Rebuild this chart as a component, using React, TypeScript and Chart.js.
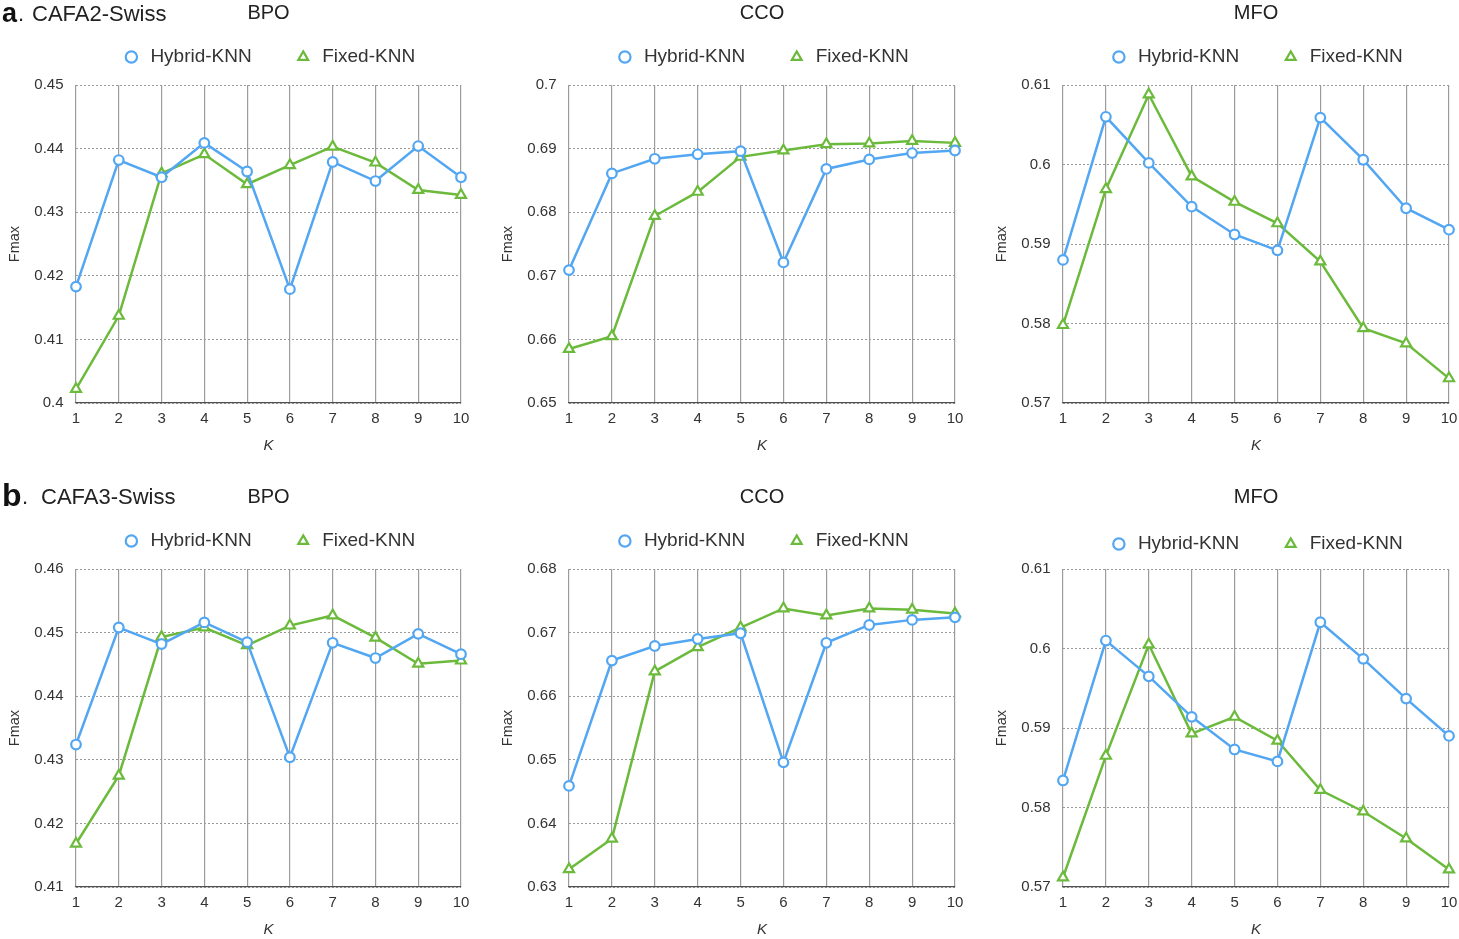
import React, { useEffect, useRef } from "react";
import { Chart, registerables } from "chart.js";

Chart.register(...registerables);

const FONT = "'Liberation Sans', Arial, sans-serif";
const BLUE = "#52A6F2";
const GREEN = "#6CBA3C";
const TEXT = "#333333";

// K values (x categories)
const K_LABELS = ["1", "2", "3", "4", "5", "6", "7", "8", "9", "10"];

// Panel a: CAFA2-Swiss
const A_BPO_HYBRID = [0.4183, 0.4382, 0.4355, 0.4409, 0.4364, 0.4179, 0.4379, 0.4349, 0.4404, 0.4355];
const A_BPO_FIXED = [0.4022, 0.4137, 0.4361, 0.4391, 0.4344, 0.4374, 0.4403, 0.4378, 0.4335, 0.4327];
const A_CCO_HYBRID = [0.6709, 0.6861, 0.6884, 0.6891, 0.6896, 0.6721, 0.6868, 0.6883, 0.6893, 0.6897];
const A_CCO_FIXED = [0.6585, 0.6605, 0.6794, 0.6832, 0.6887, 0.6897, 0.6907, 0.6908, 0.6912, 0.6909];
const A_MFO_HYBRID = [0.588, 0.606, 0.6002, 0.5947, 0.5912, 0.5892, 0.6059, 0.6006, 0.5945, 0.5918];
const A_MFO_FIXED = [0.5798, 0.5969, 0.6088, 0.5985, 0.5953, 0.5926, 0.5878, 0.5794, 0.5775, 0.5731];

// Panel b: CAFA3-Swiss
const B_BPO_HYBRID = [0.4324, 0.4508, 0.4482, 0.4516, 0.4485, 0.4304, 0.4484, 0.446, 0.4498, 0.4466];
const B_BPO_FIXED = [0.4168, 0.4275, 0.4493, 0.4508, 0.448, 0.4511, 0.4527, 0.4492, 0.4451, 0.4456];
const B_CCO_HYBRID = [0.6459, 0.6656, 0.6679, 0.669, 0.6699, 0.6496, 0.6684, 0.6712, 0.672, 0.6724];
const B_CCO_FIXED = [0.6328, 0.6376, 0.6639, 0.6677, 0.6708, 0.6738, 0.6727, 0.6738, 0.6736, 0.673];
const B_MFO_HYBRID = [0.5834, 0.601, 0.5965, 0.5914, 0.5873, 0.5858, 0.6033, 0.5987, 0.5937, 0.589];
const B_MFO_FIXED = [0.5712, 0.5865, 0.6005, 0.5893, 0.5914, 0.5884, 0.5822, 0.5795, 0.5761, 0.5722];

// Y tick values
const A_BPO_TICKS = [0.4, 0.41, 0.42, 0.43, 0.44, 0.45];
const A_CCO_TICKS = [0.65, 0.66, 0.67, 0.68, 0.69, 0.7];
const A_MFO_TICKS = [0.57, 0.58, 0.59, 0.6, 0.61];
const B_BPO_TICKS = [0.41, 0.42, 0.43, 0.44, 0.45, 0.46];
const B_CCO_TICKS = [0.63, 0.64, 0.65, 0.66, 0.67, 0.68];
const B_MFO_TICKS = [0.57, 0.58, 0.59, 0.6, 0.61];

const SERIES_NAMES = ["Hybrid-KNN", "Fixed-KNN"];

type PanelProps = {
  plotLeft: number;
  plotRight: number;
  rowTop: number;
  hybrid: number[];
  fixed: number[];
  ticks: number[];
  legendShift?: number;
};

const Y_AXIS_W = 76;
const RIGHT_PAD = 20;
const CANVAS_H = 463;

function Panel({ plotLeft, plotRight, rowTop, hybrid, fixed, ticks, legendShift = 0 }: PanelProps) {
  const ref = useRef<HTMLCanvasElement | null>(null);
  const width = Y_AXIS_W + (plotRight - plotLeft) + RIGHT_PAD;

  useEffect(() => {
    if (!ref.current) return;
    const chart = new Chart(ref.current, {
      type: "line",
      data: {
        labels: K_LABELS,
        datasets: [
          {
            label: SERIES_NAMES[0],
            data: hybrid,
            borderColor: BLUE,
            backgroundColor: "#ffffff",
            borderWidth: 2.5,
            pointStyle: "circle",
            pointRadius: 4.8,
            pointBorderWidth: 2.2,
            pointBackgroundColor: "#ffffff",
            pointBorderColor: BLUE,
            tension: 0,
            clip: false,
          },
          {
            label: SERIES_NAMES[1],
            data: fixed,
            borderColor: GREEN,
            backgroundColor: "#ffffff",
            borderWidth: 2.5,
            pointStyle: "triangle",
            pointRadius: 5.8,
            pointBorderWidth: 2.2,
            pointBackgroundColor: "#ffffff",
            pointBorderColor: GREEN,
            tension: 0,
            clip: false,
          },
        ],
      },
      options: {
        responsive: false,
        animation: false,
        devicePixelRatio: 1,
        layout: { padding: { top: 5.5 + legendShift, right: RIGHT_PAD, bottom: 0, left: 0 } },
        plugins: {
          title: { display: false },
          subtitle: {
            display: true,
            text: "",
            fullSize: false,
            weight: 500,
            font: { size: 1, lineHeight: 1 },
            padding: { top: 7.5 - legendShift, bottom: 0 },
          },
          legend: {
            display: true,
            position: "top",
            fullSize: false,
            align: "center",
            labels: {
              usePointStyle: true,
              boxHeight: 8,
              padding: 42,
              color: TEXT,
              font: { family: FONT, size: 19 },
            },
          },
          tooltip: { enabled: false },
        },
        scales: {
          x: {
            type: "category",
            offset: false,
            afterFit: (s: any) => {
              s.height = 60;
              s.paddingLeft = 0;
              s.paddingRight = 0;
            },
            ticks: {
              padding: 7,
              color: TEXT,
              maxRotation: 0,
              autoSkip: false,
              font: { family: FONT, size: 15 },
            },
            grid: { color: "#9c9c9c", lineWidth: 1.2, drawTicks: false },
            border: { display: true, color: "#505050", width: 1.3 },
            title: {
              display: true,
              text: "K",
              color: TEXT,
              font: { family: FONT, size: 15, style: "italic" },
              padding: { top: 0, bottom: 8 },
            },
          },
          y: {
            min: ticks[0],
            max: ticks[ticks.length - 1],
            afterFit: (s: any) => {
              s.width = Y_AXIS_W;
              s.paddingTop = 0;
              s.paddingBottom = 0;
            },
            afterBuildTicks: (s: any) => {
              s.ticks = ticks.map((v) => ({ value: v }));
            },
            ticks: {
              padding: 12.5,
              color: TEXT,
              font: { family: FONT, size: 15 },
              callback: (v: any) => String(Number(Number(v).toFixed(2))),
            },
            grid: { color: "#9a9a9a", lineWidth: 1, drawTicks: false },
            border: { display: false, dash: [2, 2] },
            title: {
              display: true,
              text: "Fmax",
              color: TEXT,
              font: { family: FONT, size: 14.5 },
              padding: { top: 6.3, bottom: 0 },
            },
          },
        },
      },
    } as any);
    return () => chart.destroy();
  }, []);

  return (
    <canvas
      ref={ref}
      width={width}
      height={CANVAS_H}
      style={{
        position: "absolute",
        left: plotLeft - Y_AXIS_W,
        top: rowTop,
        width,
        height: CANVAS_H,
      }}
    />
  );
}

const COLS: [number, number][] = [
  [76, 461],
  [569, 955],
  [1063, 1449],
];
const SUB_TITLES = ["BPO", "CCO", "MFO"];

function Label(props: { text: string; left: number; top: number; size: number; bold?: boolean; center?: boolean }) {
  const { text, left, top, size, bold, center } = props;
  return (
    <div
      style={{
        position: "absolute",
        left: center ? left - 100 : left,
        width: center ? 200 : undefined,
        textAlign: center ? "center" : "left",
        top,
        fontFamily: FONT,
        fontSize: size,
        lineHeight: size + "px",
        fontWeight: bold ? 700 : 400,
        color: bold ? "#111" : "#222",
        whiteSpace: "nowrap",
      }}
    >
      {text}
    </div>
  );
}

export default function App() {
  const rowA = 0;
  const rowB = 484;
  return (
    <div
      style={{
        position: "absolute",
        left: 0,
        top: 0,
        width: 1459,
        height: 939,
        overflow: "hidden",
        background: "#ffffff",
      }}
    >
      <Panel plotLeft={COLS[0][0]} plotRight={COLS[0][1]} rowTop={rowA} hybrid={A_BPO_HYBRID} fixed={A_BPO_FIXED} ticks={A_BPO_TICKS} />
      <Panel plotLeft={COLS[1][0]} plotRight={COLS[1][1]} rowTop={rowA} hybrid={A_CCO_HYBRID} fixed={A_CCO_FIXED} ticks={A_CCO_TICKS} />
      <Panel plotLeft={COLS[2][0]} plotRight={COLS[2][1]} rowTop={rowA} hybrid={A_MFO_HYBRID} fixed={A_MFO_FIXED} ticks={A_MFO_TICKS} />
      <Panel plotLeft={COLS[0][0]} plotRight={COLS[0][1]} rowTop={rowB} hybrid={B_BPO_HYBRID} fixed={B_BPO_FIXED} ticks={B_BPO_TICKS} />
      <Panel plotLeft={COLS[1][0]} plotRight={COLS[1][1]} rowTop={rowB} hybrid={B_CCO_HYBRID} fixed={B_CCO_FIXED} ticks={B_CCO_TICKS} />
      <Panel plotLeft={COLS[2][0]} plotRight={COLS[2][1]} rowTop={rowB} hybrid={B_MFO_HYBRID} fixed={B_MFO_FIXED} ticks={B_MFO_TICKS} legendShift={3} />

      <Label text="a" left={2} top={0} size={27} bold />
      <Label text="." left={18} top={3} size={22} />
      <Label text="CAFA2-Swiss" left={32} top={3} size={22} />
      <Label text="b" left={2} top={479} size={32} bold />
      <Label text="." left={22} top={486} size={22} />
      <Label text="CAFA3-Swiss" left={41} top={486} size={22} />

      {COLS.map((c, i) => (
        <Label key={"ta" + i} text={SUB_TITLES[i]} left={(c[0] + c[1]) / 2} top={2} size={20} center />
      ))}
      {COLS.map((c, i) => (
        <Label key={"tb" + i} text={SUB_TITLES[i]} left={(c[0] + c[1]) / 2} top={486} size={20} center />
      ))}
    </div>
  );
}
